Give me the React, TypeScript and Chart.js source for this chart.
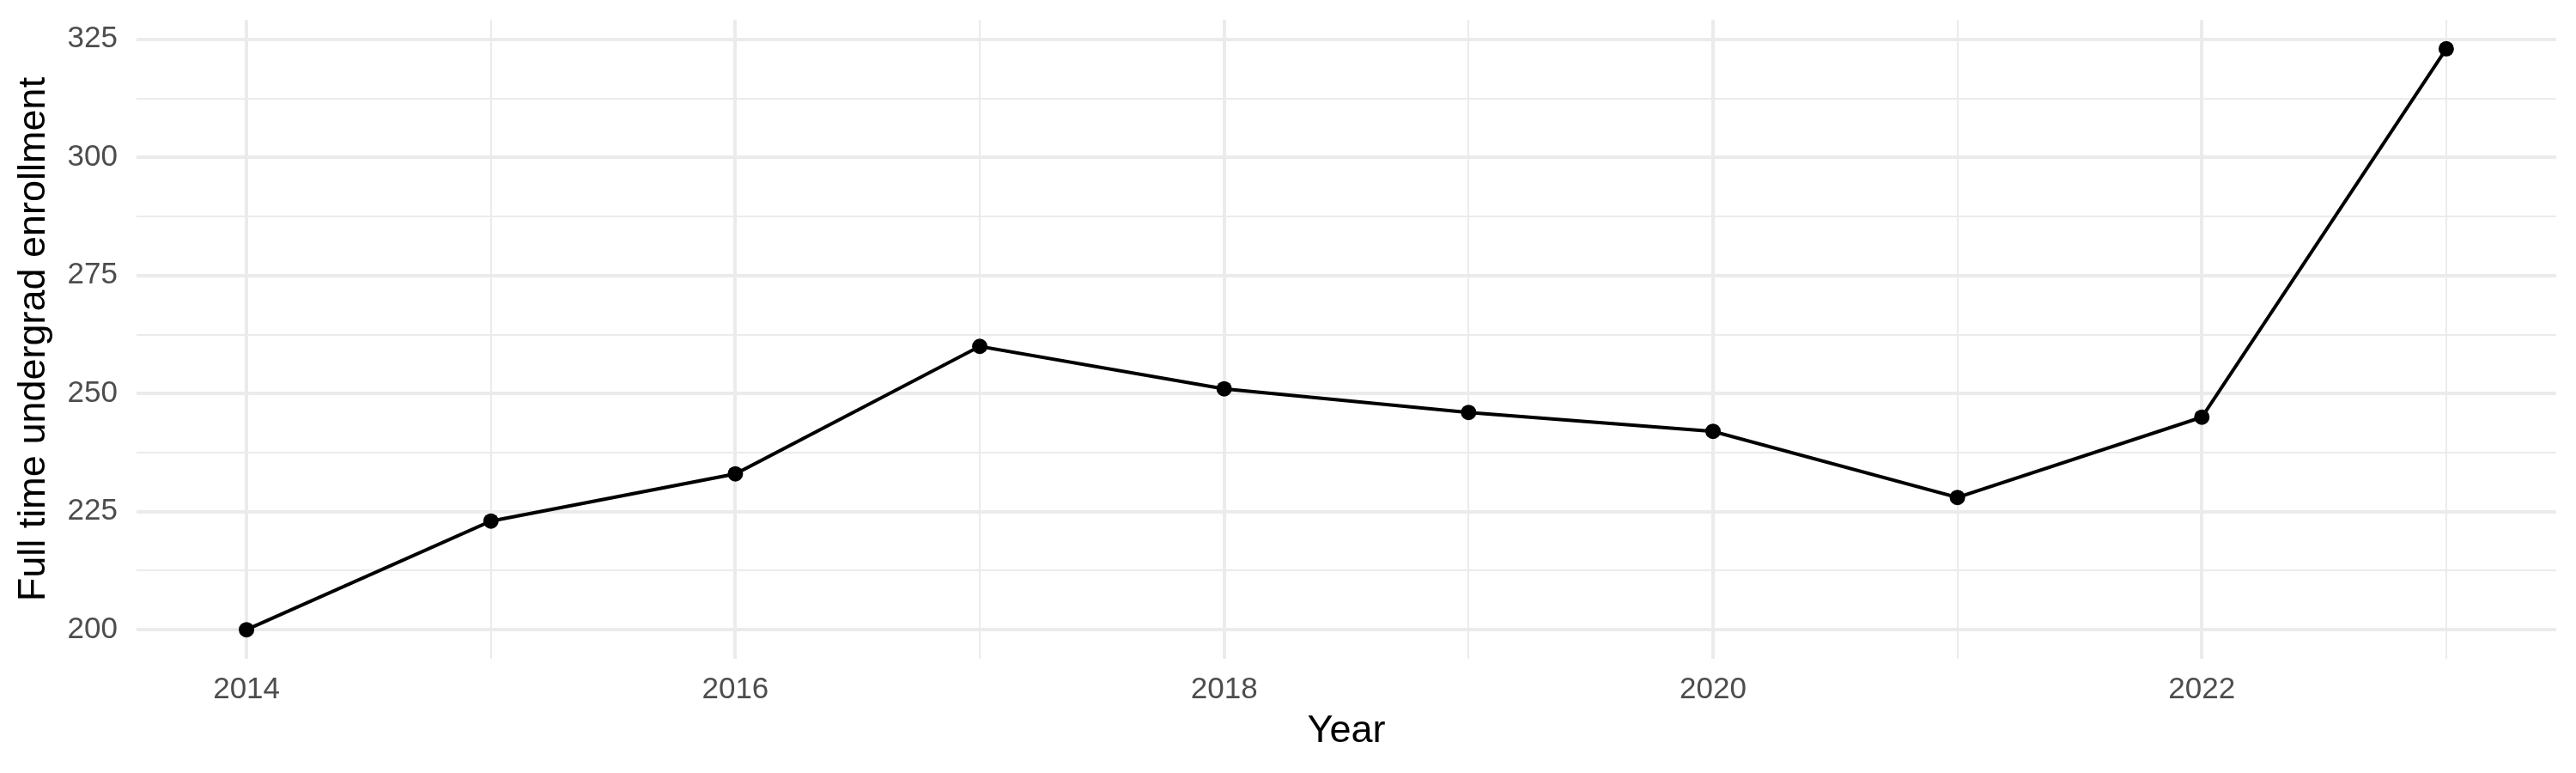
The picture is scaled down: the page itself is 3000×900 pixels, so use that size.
import React, { useEffect, useRef } from "react";
import { Chart, registerables } from "chart.js";

Chart.register(...registerables);

const years = [2014, 2015, 2016, 2017, 2018, 2019, 2020, 2021, 2022, 2023];
const enrollment = [200, 223, 233, 260, 251, 246, 242, 228, 245, 323];
const xTickValues = [2014, 2015, 2016, 2017, 2018, 2019, 2020, 2021, 2022, 2023];
const xLabelValues = [2014, 2016, 2018, 2020, 2022];
const yTickValues = [200, 212.5, 225, 237.5, 250, 262.5, 275, 287.5, 300, 312.5, 325];
const yLabelValues = [200, 225, 250, 275, 300, 325];

const FONT = "'Liberation Sans', Arial, Helvetica, sans-serif";

export default function App() {
  const ref = useRef<HTMLCanvasElement | null>(null);

  useEffect(() => {
    if (!ref.current) return;
    const xMin = Math.min(...years);
    const xMax = Math.max(...years);
    const xPad = (xMax - xMin) * 0.05;
    const yMin = Math.min(...enrollment);
    const yMax = Math.max(...enrollment);
    const yPad = (yMax - yMin) * 0.05;

    const chart = new Chart(ref.current, {
      type: "line",
      data: {
        datasets: [
          {
            data: years.map((y, i) => ({ x: y, y: enrollment[i] })),
            borderColor: "#000000",
            backgroundColor: "#000000",
            borderWidth: 4,
            pointRadius: 9,
            pointHoverRadius: 9,
            pointBorderWidth: 0,
            pointBackgroundColor: "#000000",
            tension: 0,
            fill: false,
          },
        ],
      },
      options: {
        animation: false,
        responsive: false,
        devicePixelRatio: 1,
        layout: { padding: { top: 23, right: 23, left: 0, bottom: 0 } },
        plugins: { legend: { display: false }, tooltip: { enabled: false } },
        scales: {
          x: {
            type: "linear",
            min: xMin - xPad,
            max: xMax + xPad,
            afterBuildTicks: (axis: any) => {
              axis.ticks = xTickValues.map((v) => ({ value: v }));
            },
            afterFit: (scale: any) => {
              scale.height = 133;
              scale.paddingLeft = 0;
              scale.paddingRight = 0;
            },
            border: { display: false },
            grid: {
              color: "#ebebeb",
              lineWidth: (ctx: any) => (ctx.tick && xLabelValues.includes(ctx.tick.value) ? 4 : 2),
              drawTicks: false,
            },
            ticks: {
              autoSkip: false,
              maxRotation: 0,
              padding: 15,
              color: "#4d4d4d",
              font: { family: FONT, size: 35 },
              callback: (v: any) => (xLabelValues.includes(Number(v)) ? String(v) : ""),
            },
            title: {
              display: true,
              text: "Year",
              color: "#000000",
              font: { family: FONT, size: 45 },
              padding: { top: 0, bottom: 21 },
            },
          },
          y: {
            type: "linear",
            min: yMin - yPad,
            max: yMax + yPad,
            afterBuildTicks: (axis: any) => {
              axis.ticks = yTickValues.map((v) => ({ value: v }));
            },
            afterFit: (scale: any) => {
              scale.width = 159;
              scale.paddingTop = 0;
              scale.paddingBottom = 0;
            },
            border: { display: false },
            grid: {
              color: "#ebebeb",
              lineWidth: (ctx: any) => (ctx.tick && yLabelValues.includes(ctx.tick.value) ? 4 : 2),
              drawTicks: false,
            },
            ticks: {
              autoSkip: false,
              padding: 22,
              color: "#4d4d4d",
              font: { family: FONT, size: 35 },
              callback: (v: any) => (yLabelValues.includes(Number(v)) ? String(v) : ""),
            },
            title: {
              display: true,
              text: "Full time undergrad enrollment",
              color: "#000000",
              font: { family: FONT, size: 45 },
              padding: { top: 13, bottom: 0 },
            },
          },
        },
      },
    });
    return () => chart.destroy();
  }, []);

  return (
    <div style={{ position: "fixed", left: 0, top: 0, width: 3000, height: 900, background: "#ffffff" }}>
      <canvas ref={ref} width={3000} height={900} style={{ width: 3000, height: 900, display: "block" }} />
    </div>
  );
}
